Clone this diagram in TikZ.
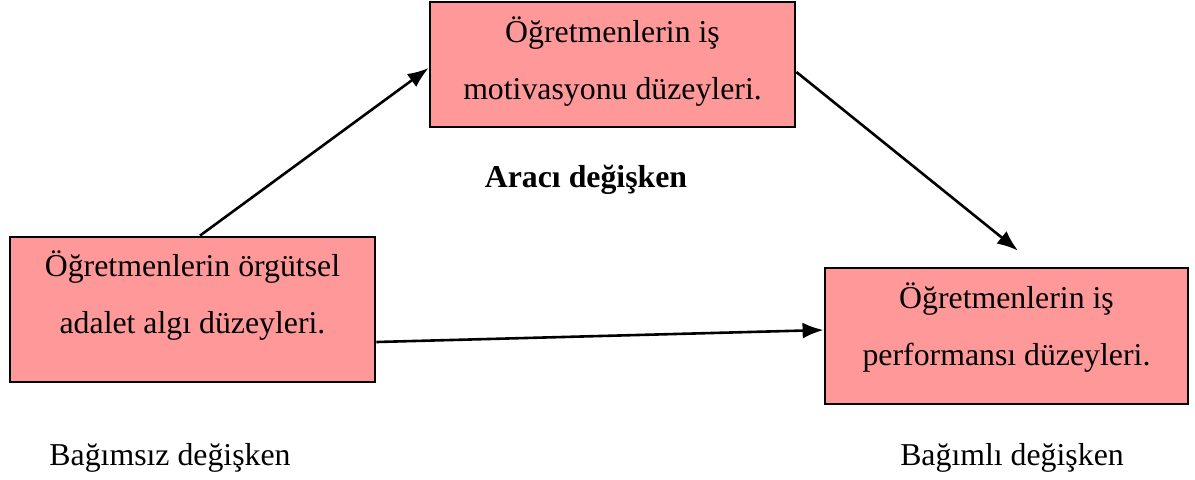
\documentclass[tikz,border=0pt]{standalone}
\usepackage{fontspec}
\setmainfont{Liberation Serif}
\usetikzlibrary{arrows.meta}
\definecolor{boxfill}{RGB}{255,153,153}
\tikzset{
  varbox/.style={draw=black, line width=1.4pt, fill=boxfill, rectangle, inner sep=0pt},
  boxtext/.style={align=center, font=\fontsize{15.9}{28.5}\selectfont, inner sep=0pt},
  plain/.style={font=\fontsize{15.9}{19}\selectfont, inner sep=0pt},
  link/.style={line width=1.3pt, -{Latex[length=10.5pt,width=8pt]}}
}
\begin{document}
\begin{tikzpicture}[x=0.5pt, y=-0.5pt]
  \useasboundingbox (0,0) rectangle (1195,479);

  % boxes
  \node[varbox, minimum width=182.5pt, minimum height=62.5pt] (t) at (612.5,64.5) {};
  \node[varbox, minimum width=182.5pt, minimum height=72.5pt] (l) at (192.5,309.5) {};
  \node[varbox, minimum width=181.5pt, minimum height=68pt] (r) at (1006.5,336) {};

  % box texts
  \node[boxtext] (tt) at (612.5,62) {Öğretmenlerin iş\\motivasyonu düzeyleri.};
  \node[boxtext] (lt) at (192.5,296) {Öğretmenlerin örgütsel\\adalet algı düzeyleri.};
  \node[boxtext] (rt) at (1006.5,328) {Öğretmenlerin iş\\performansı düzeyleri.};

  % captions
  \node[plain, font=\fontsize{15.9}{19}\selectfont\bfseries] (mid) at (586,180) {Aracı değişken};
  \node[plain] (ind) at (170,458) {Bağımsız değişken};
  \node[plain] (dep) at (1012,458) {Bağımlı değişken};

  % connectors
  \draw[link] ([xshift=3.75pt]l.north) -- ([yshift=-1.75pt]t.west);
  \draw[link] ([yshift=-3.75pt]t.east) -- ([xshift=5.75pt,yshift=8pt]r.north);
  \draw[link] ([yshift=-16.25pt]l.east) -- ([yshift=3pt]r.west);
\end{tikzpicture}
\end{document}
